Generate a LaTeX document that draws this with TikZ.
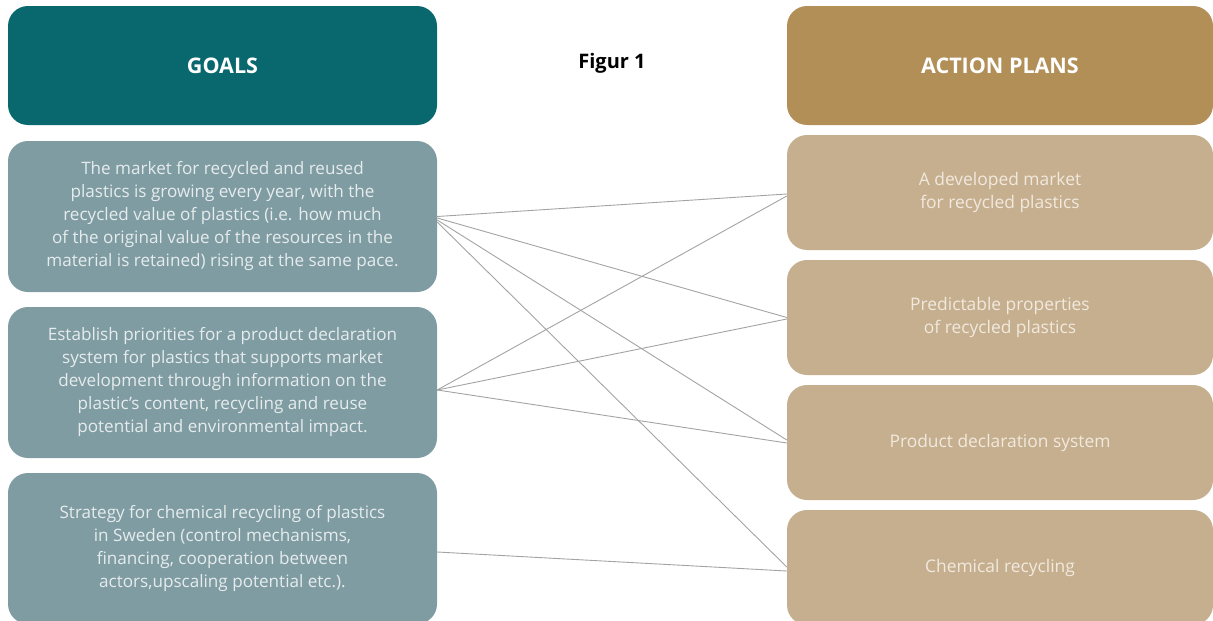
\documentclass[tikz,border=0pt]{standalone}
\usepackage{fontspec}
\setmainfont{Open Sans}
\definecolor{goalhead}{HTML}{08686D}
\definecolor{goalbox}{HTML}{7F9CA2}
\definecolor{acthead}{HTML}{B38F58}
\definecolor{actbox}{HTML}{C6AF8E}
\definecolor{goaltext}{HTML}{E6ECED}
\definecolor{acttext}{HTML}{F1E9DE}
\definecolor{linkgrey}{HTML}{A3A3A3}
\tikzset{
  headbox/.style={rectangle, rounded corners=20pt, inner sep=0pt, text=white,
    font=\fontsize{21.5}{24}\selectfont\bfseries},
  goalnode/.style={rectangle, rounded corners=20pt, fill=goalbox, inner sep=0pt,
    minimum width=429pt, minimum height=151pt, text=goaltext, align=center,
    font=\fontsize{17.1}{23}\selectfont},
  actnode/.style={rectangle, rounded corners=20pt, fill=actbox, inner sep=0pt,
    minimum width=426pt, minimum height=115pt, text=acttext, align=center,
    font=\fontsize{17.4}{23}\selectfont},
  link/.style={draw=linkgrey, line width=0.9pt}
}
\begin{document}
\begin{tikzpicture}[x=1pt,y=-1pt]
\useasboundingbox (0,0) rectangle (1213,621);
\clip (0,0) rectangle (1213,621);
% headers
\node[headbox, fill=goalhead, minimum width=429pt, minimum height=119pt] (gh) at (222.5,65.5) {GOALS};
\node[headbox, fill=acthead, minimum width=426pt, minimum height=119pt] (ah) at (1000,65.5) {ACTION PLANS};
\node[font=\fontsize{20}{22}\selectfont\bfseries, text=black] (fig) at (612,63) {Figur 1};
% goals
\node[goalnode] (g1) at (222.5,216.5) {The market for recycled and reused\\plastics is growing every year, with the\\recycled value of plastics (i.e. how much\\of the original value of the resources in the\\material is retained) rising at the same pace.};
\node[goalnode] (g2) at (222.5,382.5) {Establish priorities for a product declaration\\system for plastics that supports market\\development through information on the\\plastic’s content, recycling and reuse\\potential and environmental impact.};
\node[goalnode, minimum height=151pt] (g3) at (222.5,548.5) {Strategy for chemical recycling of plastics\\in Sweden (control mechanisms,\\financing, cooperation between\\actors,upscaling potential etc.).};
% actions
\node[actnode] (a1) at (1000,192.5) {A developed market\\for recycled plastics};
\node[actnode] (a2) at (1000,317.5) {Predictable properties\\of recycled plastics};
\node[actnode] (a3) at (1000,442.5) {Product declaration system};
\node[actnode] (a4) at (1000,567.5) {Chemical recycling};
% links
\draw[link] (g1.east) -- ([yshift=-1.5pt]a1.west);
\draw[link] ([yshift=-1.5pt]g1.east) -- (a2.west);
\draw[link] ([yshift=-3.5pt]g1.east) -- ([yshift=2.5pt]a3.west);
\draw[link] ([yshift=-5.5pt]g1.east) -- ([yshift=0.5pt]a4.west);
\draw[link] ([yshift=-7.5pt]g2.east) -- ([yshift=-3.5pt]a1.west);
\draw[link] ([yshift=-7.5pt]g2.east) -- ([yshift=-1.5pt]a2.west);
\draw[link] ([yshift=-7.5pt]g2.east) -- ([yshift=-0.5pt]a3.west);
\draw[link] ([yshift=-3.5pt]g3.east) -- ([yshift=-3.5pt]a4.west);
\end{tikzpicture}
\end{document}
